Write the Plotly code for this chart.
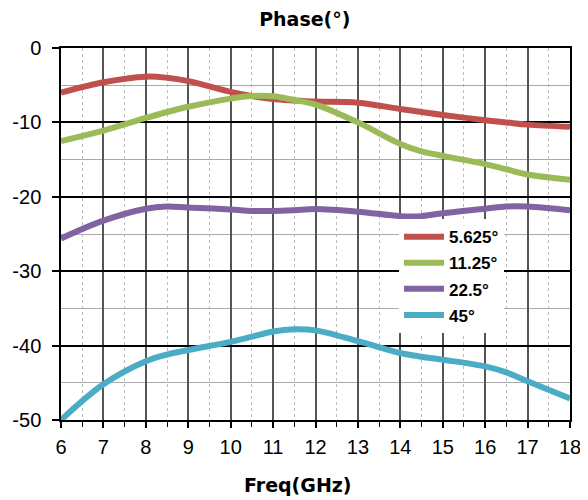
import plotly.graph_objects as go

freq = [6, 7, 8, 8.5, 9, 10, 10.5, 11, 11.5, 12, 13, 14, 14.5, 15, 16, 16.5, 17, 18]
s5625 = [-6.0, -4.6, -3.85, -4.0, -4.45, -5.9, -6.45, -6.85, -7.05, -7.2, -7.35, -8.2, -8.6, -9.0, -9.7, -10.0, -10.3, -10.6]
s1125 = [-12.5, -11.1, -9.4, -8.6, -7.9, -6.8, -6.45, -6.5, -7.0, -7.6, -10.0, -12.9, -13.9, -14.5, -15.6, -16.3, -17.0, -17.7]
s225 = [-25.6, -23.2, -21.6, -21.3, -21.45, -21.7, -21.9, -21.9, -21.8, -21.65, -22.0, -22.6, -22.6, -22.2, -21.6, -21.3, -21.3, -21.8]
s45 = [-50.0, -45.2, -42.1, -41.2, -40.6, -39.5, -38.8, -38.1, -37.8, -37.95, -39.4, -41.0, -41.5, -41.9, -42.8, -43.6, -44.8, -47.1]

names = ["5.625°", "11.25°", "22.5°", "45°"]
series = [s5625, s1125, s225, s45]
colors = ["#C0504D", "#9BBB59", "#8064A2", "#4BACC6"]

xticks = list(range(6, 19))
yticks = [0, -10, -20, -30, -40, -50]

sans = "Liberation Sans, Arial, sans-serif"
bold_title = "DejaVu Sans, Verdana, sans-serif"

fig = go.Figure()
for i, (n, s, c) in enumerate(zip(names, series, colors)):
    fig.add_trace(go.Scatter(x=freq, y=s, name="<b>" + n + "</b>", mode="lines",
                             legendgroup="g%d" % i,
                             line=dict(color=c, width=6, shape="spline", smoothing=1.0)))

fig.update_layout(
    width=580, height=492,
    margin=dict(l=53, r=18, t=40, b=80, autoexpand=False),
    paper_bgcolor="white", plot_bgcolor="white",
    font=dict(family=sans, size=19, color="black"),
    title=dict(text="<b>Phase(°)</b>", x=0.479, xref="paper", xanchor="center",
               y=0.976, yanchor="middle", yref="container",
               font=dict(size=19, family=bold_title, color="black")),
    showlegend=True,
    legend=dict(x=0.664, y=0.54, xanchor="left", yanchor="top",
                bgcolor="white", borderwidth=0,
                font=dict(size=17, family=sans, color="black"),
                tracegroupgap=1, itemwidth=40),
    annotations=[dict(text="<b>Freq(GHz)</b>", xref="paper", yref="paper",
                      x=0.465, y=-0.175, xanchor="center", yanchor="middle",
                      showarrow=False,
                      font=dict(size=19, family=bold_title, color="black"))],
)

fig.update_xaxes(
    range=[6, 18], tickvals=xticks, ticktext=[str(v) for v in xticks],
    showgrid=True, gridcolor="#555555", gridwidth=1.5,
    ticks="outside", ticklen=6, tickcolor="black", tickwidth=1.5,
    showline=True, mirror=True, linecolor="black", linewidth=1.5,
    zeroline=False, automargin=False,
    minor=dict(dtick=0.5, showgrid=True, griddash="dot", gridcolor="#BBBBBB",
               gridwidth=1.2, ticks="outside", ticklen=5, tickcolor="black", tickwidth=1),
    tickfont=dict(size=20),
    ticklabelstandoff=2,
)
fig.update_yaxes(
    range=[-50, 0], tickvals=yticks, ticktext=[str(v) for v in yticks],
    showgrid=True, gridcolor="black", gridwidth=1.5,
    ticks="outside", ticklen=7, tickcolor="black", tickwidth=1.5,
    showline=True, mirror=True, linecolor="black", linewidth=1.5,
    zeroline=False, automargin=False,
    minor=dict(dtick=5, showgrid=True, gridcolor="#AAAAAA", gridwidth=1.2, ticks=""),
    tickfont=dict(size=20),
    ticklabelstandoff=7,
)

fig.write_html("out.html")
